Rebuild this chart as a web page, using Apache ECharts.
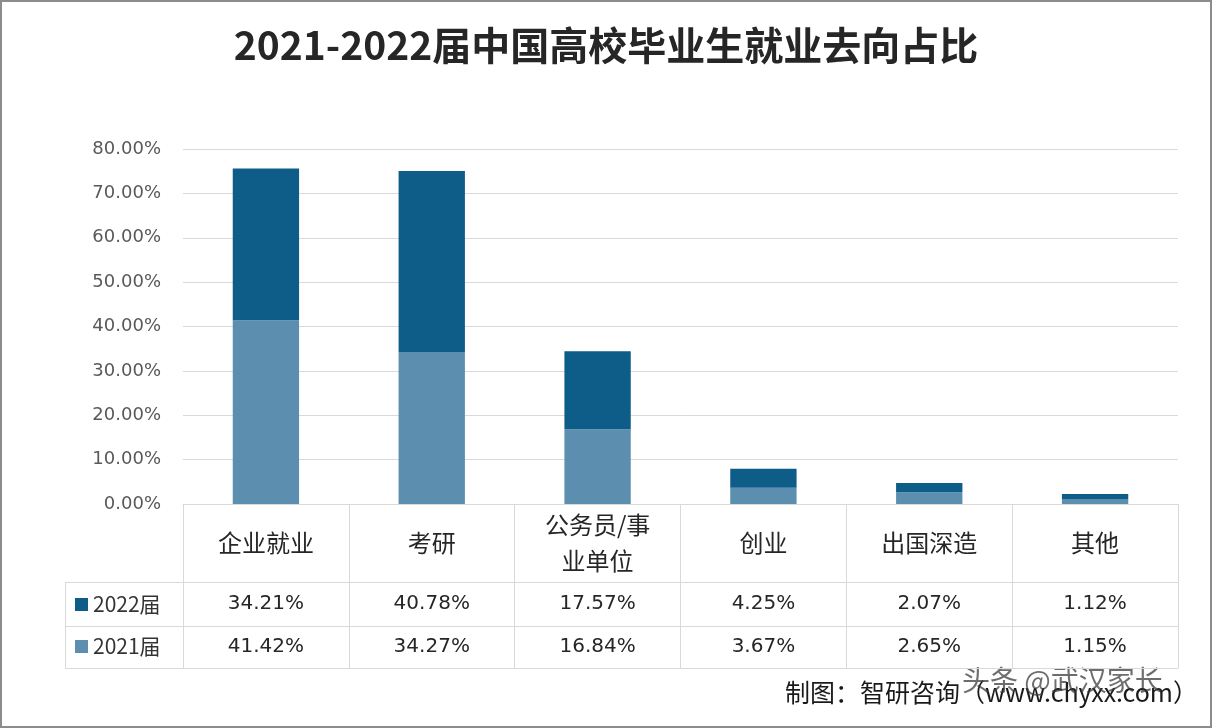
<!DOCTYPE html>
<html><head><meta charset="utf-8">
<script src="https://cdn.jsdelivr.net/npm/echarts@6/dist/echarts.min.js"></script>
<style>html,body{margin:0;padding:0;background:#fff}#c{width:1212px;height:728px}</style>
</head><body><div id="c"></div>
<script>
const categories = ['企业就业','考研','公务员/事业单位','创业','出国深造','其他'];
const seriesNames = ['2022届','2021届'];
const values2022 = [34.21, 40.78, 17.57, 4.25, 2.07, 1.12];
const values2021 = [41.42, 34.27, 16.84, 3.67, 2.65, 1.15];
const yTicks = [0,10,20,30,40,50,60,70,80];

const DARK = '#0D5D88', LIGHT = '#5C8FAF', LINE = '#d9d9d9';
const fmt = v => v.toFixed(2) + '%';
const FONT = '"Noto Sans CJK SC","DejaVu Sans",sans-serif';

const chart = echarts.init(document.getElementById('c'));
const catAxisBase = {
  type: 'category', position: 'bottom', boundaryGap: true,
  axisLine: { show: true, lineStyle: { color: LINE, width: 1 } },
  axisTick: { show: true, interval: 0, inside: false, lineStyle: { color: LINE } },
  splitLine: { show: false }
};
chart.setOption({
  animation: false,
  title: {
    text: '2021-2022届中国高校毕业生就业去向占比', left: 'center', top: 21,
    textStyle: { fontSize: 39, fontWeight: 'bold', color: '#262626', fontFamily: FONT }
  },
  legend: {
    data: seriesNames, orient: 'vertical', left: 70, top: 589, itemGap: 21,
    icon: 'rect', itemWidth: 13, itemHeight: 13,
    textStyle: { fontSize: 21, color: '#333', fontFamily: FONT }, selectedMode: false
  },
  grid: { left: 183, right: 34, top: 149, bottom: 224 },
  yAxis: {
    type: 'value', min: yTicks[0], max: yTicks[yTicks.length - 1], interval: yTicks[1] - yTicks[0],
    axisLine: { show: false }, axisTick: { show: false },
    splitLine: { lineStyle: { color: LINE } },
    axisLabel: { formatter: v => fmt(v), fontSize: 18, color: '#595959', margin: 22, fontFamily: '"DejaVu Sans",sans-serif' }
  },
  xAxis: [
    Object.assign({}, catAxisBase, {
      data: categories, offset: 0,
      axisTick: Object.assign({}, catAxisBase.axisTick, { length: 78 }),
      axisLabel: { interval: 0, margin: 39, verticalAlign: 'middle', fontSize: 24, color: '#262626',
        width: 118, overflow: 'break', lineHeight: 36, fontFamily: FONT }
    }),
    Object.assign({}, catAxisBase, {
      data: values2022.map(fmt), offset: 78,
      axisTick: Object.assign({}, catAxisBase.axisTick, { length: 44 }),
      axisLabel: { interval: 0, margin: 22, verticalAlign: 'middle', fontSize: 20, color: '#262626', fontFamily: '"DejaVu Sans",sans-serif' }
    }),
    Object.assign({}, catAxisBase, {
      data: values2021.map(fmt), offset: 122,
      axisTick: Object.assign({}, catAxisBase.axisTick, { length: 42 }),
      axisLabel: { interval: 0, margin: 21, verticalAlign: 'middle', fontSize: 20, color: '#262626', fontFamily: '"DejaVu Sans",sans-serif' }
    }),
    Object.assign({}, catAxisBase, {
      data: categories, offset: 164,
      axisTick: { show: false }, axisLabel: { show: false }
    })
  ],
  series: [
    { name: '2021届', type: 'bar', stack: 'a', xAxisIndex: 0, data: values2021, barWidth: '40%',
      itemStyle: { color: LIGHT } },
    { name: '2022届', type: 'bar', stack: 'a', xAxisIndex: 0, data: values2022, barWidth: '40%',
      itemStyle: { color: DARK } }
  ],
  graphic: [
    { type: 'rect', shape: { x: 1, y: 1, width: 1210, height: 726 }, style: { fill: 'none', stroke: '#8c8c8c', lineWidth: 2 }, silent: true },
    { type: 'line', shape: { x1: 65, y1: 582.5, x2: 183, y2: 582.5 }, style: { stroke: LINE } },
    { type: 'line', shape: { x1: 65, y1: 626.5, x2: 183, y2: 626.5 }, style: { stroke: LINE } },
    { type: 'line', shape: { x1: 65, y1: 668.5, x2: 183, y2: 668.5 }, style: { stroke: LINE } },
    { type: 'line', shape: { x1: 65.5, y1: 582, x2: 65.5, y2: 668 }, style: { stroke: LINE } },
    { type: 'text', right: 14, top: 680, style: { text: '制图：智研咨询（www.chyxx.com）', fontSize: 25, fill: '#1a1a1a', fontFamily: FONT } },
    { type: 'text', left: 962, top: 666, style: { text: '头条 @武汉家长', fontSize: 28, fill: 'rgba(60,60,60,0.75)', fontFamily: FONT } }
  ]
});
</script></body></html>
